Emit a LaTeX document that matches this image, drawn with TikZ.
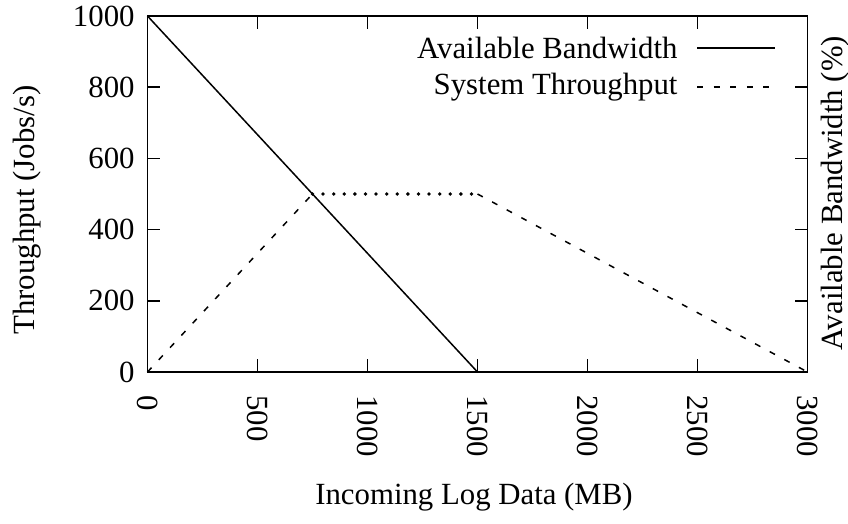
\documentclass[tikz,border=0pt]{standalone}
\usepackage{fontspec}
\setmainfont{Liberation Serif}
\begin{document}
\begin{tikzpicture}[x=0.11pt, y=0.178pt, font=\fontsize{15.4}{18}\selectfont,
    frame/.style={black, line width=0.75pt},
    bwline/.style={black, line width=0.75pt},
    tpline/.style={black, line width=0.75pt, dash pattern=on 3pt off 5.3pt},
    tpdots/.style={black, line width=1.9pt, line cap=round, dash pattern=on 0pt off 5.3pt}]
    \useasboundingbox (-73.75pt,-76pt) rectangle (350.25pt,186pt);
    \draw[frame] (0,0) rectangle (3000,1000);
    \foreach \x in {0, 500, ..., 3000} {
        \draw[frame] (\x,0) -- ++(0,6.5pt);
        \draw[frame] (\x,1000) -- ++(0,-6.5pt);
        \node[rotate=-90, anchor=west, inner sep=0] (xt\x) at ([yshift=-11.5pt]\x,0) {\x};
    }
    \foreach \y in {0, 200, ..., 1000} {
        \draw[frame] (0,\y) -- ++(6.5pt,0);
        \draw[frame] (3000,\y) -- ++(-6.5pt,0);
        \node[anchor=east, inner sep=0] (yt\y) at ([xshift=-6.25pt]0,\y) {\y};
    }
    \node[rotate=90] (ylab) at (-548,455) {Throughput (Jobs/s)};
    \node[rotate=90] (y2lab) at (3125,503) {Available Bandwidth (\%)};
    \node (xlab) at (1484,-351) {Incoming Log Data (MB)};
    % curves
    \coordinate (bwtop) at (0,1000);
    \coordinate (bwend) at (1500,0);
    \coordinate (tp0) at (0,0);
    \coordinate (tpa) at (750,500);
    \coordinate (tpb) at (1500,500);
    \coordinate (tpc) at (3000,0);
    \draw[bwline] (bwtop) -- (bwend);
    \draw[tpline] (tp0) -- (tpa);
    \draw[tpdots] (tpa) -- (tpb);
    \draw[tpline] (tpb) -- (tpc);
    % key
    \node[anchor=east, inner sep=0] (bwkey) at (2411,910) {Available Bandwidth};
    \node[anchor=east, inner sep=0] (tpkey) at (2411,800) {System Throughput};
    \coordinate (bwk0) at (2498,910);
    \coordinate (bwk1) at (2852,910);
    \coordinate (tpk0) at (2498,800);
    \coordinate (tpk1) at (2852,800);
    \draw[bwline] (bwk0) -- (bwk1);
    \draw[tpline] (tpk0) -- (tpk1);
\end{tikzpicture}
\end{document}
